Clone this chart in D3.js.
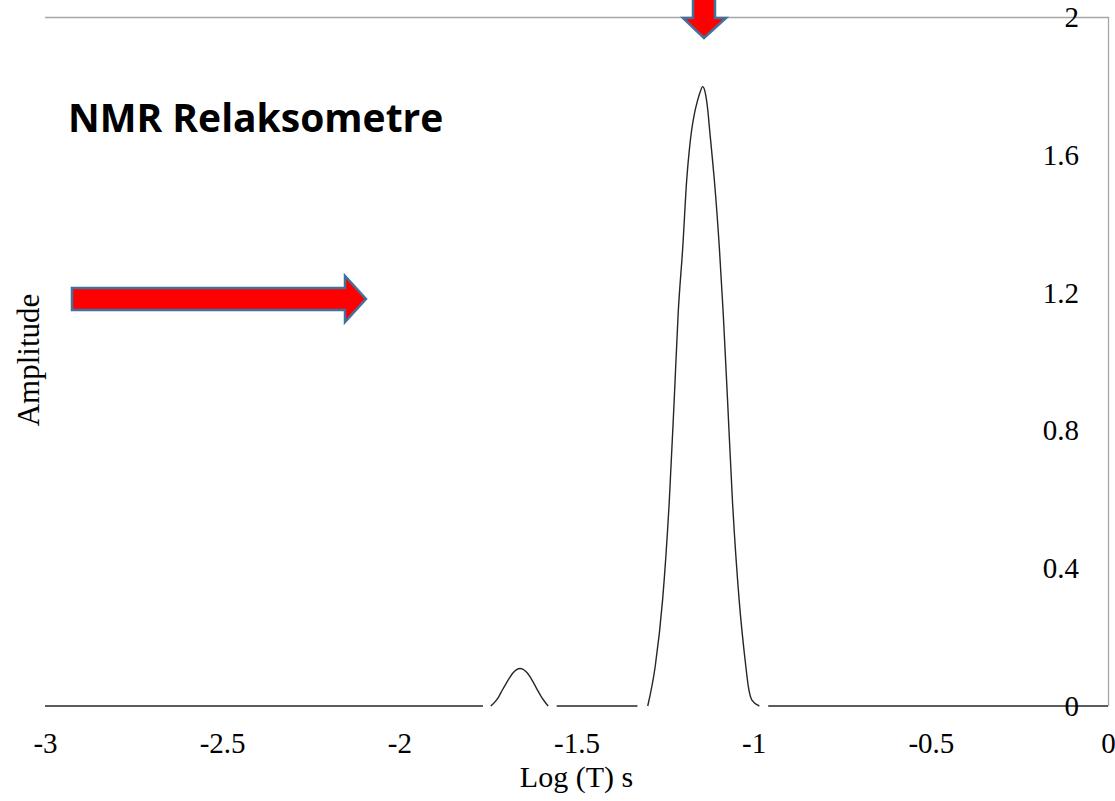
<!DOCTYPE html>
<html>
<head>
<meta charset="utf-8">
<script src="https://cdn.jsdelivr.net/npm/d3@7"></script>
<style>
body{margin:0;background:#fff;}
svg{display:block;}
</style>
</head>
<body>
<script>
// distribution, drawn in pieces (the original has little gaps between them)
var flatLeftT=[-3,-1.764];
var flatLeftA=[0,0];
var smallPeakT=[-1.742,-1.73,-1.72,-1.71,-1.70,-1.69,-1.68,-1.67,-1.659,-1.65,-1.64,-1.63,-1.62,-1.61,-1.60,-1.59,-1.58];
var smallPeakA=[0,0.012,0.026,0.045,0.063,0.080,0.095,0.105,0.109,0.106,0.097,0.083,0.065,0.046,0.028,0.013,0];
var flatMidT=[-1.556,-1.328];
var flatMidA=[0,0];
var bigPeakT=[-1.299,-1.278,-1.257,-1.238,-1.224,-1.213,-1.200,-1.189,-1.182,-1.175,-1.167,-1.159,-1.151,-1.144,-1.139,-1.134,-1.129,-1.125,-1.118,-1.111,-1.097,-1.086,-1.074,-1.060,-1.041,-1.022,-1.015,-1.005,-0.984];
var bigPeakA=[0,0.114,0.308,0.598,0.894,1.141,1.333,1.527,1.610,1.672,1.720,1.755,1.782,1.798,1.790,1.765,1.725,1.680,1.605,1.527,1.333,1.141,0.894,0.598,0.308,0.114,0.056,0.017,0];
var flatRightT=[-0.959,0];
var flatRightA=[0,0];

var xTicks=[-3,-2.5,-2,-1.5,-1,-0.5,0];
var yTicks=[0,0.4,0.8,1.2,1.6,2];

var pieces=[
  [flatLeftT,flatLeftA],
  [smallPeakT,smallPeakA],
  [flatMidT,flatMidA],
  [bigPeakT,bigPeakA],
  [flatRightT,flatRightA]
];

var scren={width:1115,height:801};
var margins={top:17,left:45,right:7,bottom:95};
var width=scren.width-margins.left-margins.right;
var height=scren.height-margins.top-margins.bottom;
var serif="'Liberation Serif','Times New Roman',serif";

var svg=d3.select("body").append("svg")
          .attr("width",scren.width)
          .attr("height",scren.height);

var xScale=d3.scaleLinear().domain([-3,0]).range([0,width]);
var yScale=d3.scaleLinear().domain([0,2]).range([height,0]);

var plotLand=svg.append("g")
                .attr("transform","translate("+margins.left+","+margins.top+")");

// frame, top and right only
plotLand.append("path")
        .attr("d","M0,0.5H"+(width+0.5)+"V"+height)
        .attr("fill","none")
        .attr("stroke","#a6a6a6")
        .attr("stroke-width",1.3);

var line=d3.line()
           .x(function(d){return xScale(d[0]);})
           .y(function(d){return yScale(d[1]);})
           .curve(d3.curveMonotoneX);

plotLand.selectAll("path.curve")
        .data(pieces)
        .enter()
        .append("path")
        .classed("curve",true)
        .attr("d",function(p){return line(d3.zip(p[0],p[1]));})
        .attr("fill","none")
        .attr("stroke","#262626")
        .attr("stroke-width",1.4);

// x tick labels
var xAxis=d3.axisBottom(xScale).tickValues(xTicks).tickSize(0).tickPadding(0)
            .tickFormat(function(d){return String(d);});
var xg=plotLand.append("g")
               .attr("transform","translate(0,"+height+")")
               .call(xAxis);
xg.select(".domain").remove();
xg.selectAll("text")
  .attr("y",47)
  .attr("dy",0)
  .attr("fill","#000")
  .style("font-family",serif)
  .style("font-size","29px");

// y tick labels sit inside the plot, on the right
var yAxis=d3.axisRight(yScale).tickValues(yTicks).tickSize(0).tickPadding(0)
            .tickFormat(function(d){return String(d);});
var yg=plotLand.append("g")
               .attr("transform","translate("+(width-29)+",0)")
               .call(yAxis);
yg.select(".domain").remove();
yg.selectAll("text")
  .attr("x",0)
  .attr("dy","0.33em")
  .attr("text-anchor","end")
  .attr("fill","#000")
  .style("font-family",serif)
  .style("font-size","29px");

svg.append("text")
   .attr("x",margins.left+xScale(-1.5))
   .attr("y",787)
   .attr("text-anchor","middle")
   .style("font-family",serif)
   .style("font-size","30px")
   .text("Log (T) s");

svg.append("text")
   .attr("transform","translate(39,360) rotate(-90)")
   .attr("text-anchor","middle")
   .style("font-family",serif)
   .style("font-size","31px")
   .text("Amplitude");

svg.append("text")
   .attr("x",68)
   .attr("y",132)
   .style("font-family","'Open Sans',sans-serif")
   .style("font-weight","bold")
   .style("font-size","39px")
   .text("NMR Relaksometre");

// block arrows
svg.append("path")
   .attr("d","M72,288H345V276L366,299L345,322V310H72Z")
   .attr("fill","#ff0000")
   .attr("stroke","#41719c")
   .attr("stroke-width",2.5)
   .attr("stroke-linejoin","miter");

svg.append("path")
   .attr("d","M693,-5V18H683L704,38L726,18H715V-5Z")
   .attr("fill","#ff0000")
   .attr("stroke","#41719c")
   .attr("stroke-width",2.5);
</script>
</body>
</html>
